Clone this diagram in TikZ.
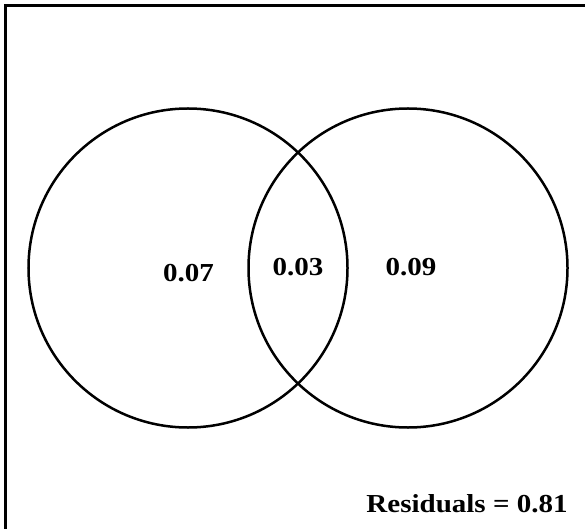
\documentclass[tikz,border=0pt]{standalone}
\usepackage{fontspec}
\setmainfont{Liberation Serif}[FakeStretch=1.12]
\usepackage{tikz}
\usetikzlibrary{positioning}

\tikzset{
    setcircle/.style={draw,circle,line width=2.5bp,minimum size=319bp,inner sep=0pt},
    share/.style={anchor=base,inner sep=0pt,font=\bfseries\fontsize{26}{30}\selectfont}
}

\begin{document}
\begin{tikzpicture}[x=1bp,y=-1bp]
    \useasboundingbox (0,0) rectangle (585,529);
    % frame (left and top edge only)
    \draw[line width=3bp] (5.5,529) -- (5.5,5.5) -- (585,5.5);
    % the two sets
    \node[setcircle] (setA) at (188,268) {};
    \node[setcircle] (setB) at (408,268) {};
    % shares
    \node[share] (onlyA) at (188.5,281) {0.07};
    \node[share] (both) at (298,275) {0.03};
    \node[share] (onlyB) at (411,275) {0.09};
    \node[share] (resid) at (467,512) {Residuals = 0.81};
\end{tikzpicture}
\end{document}
